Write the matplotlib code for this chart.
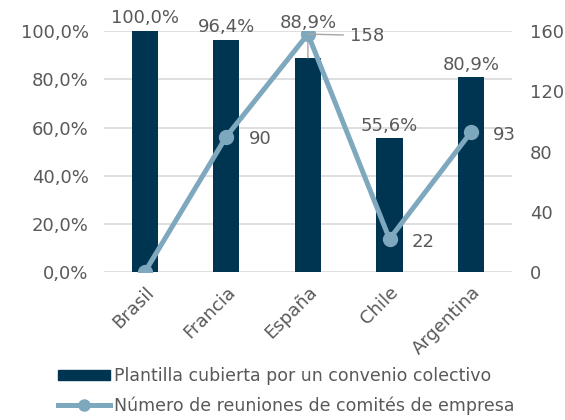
import matplotlib.pyplot as plt
from matplotlib.lines import Line2D
from matplotlib.patches import Patch

paises = ['Brasil', 'Francia', 'España', 'Chile', 'Argentina']
plantilla = [100.0, 96.4, 88.9, 55.6, 80.9]
reuniones = [0, 90, 158, 22, 93]
pct_ticks = [0, 20, 40, 60, 80, 100]
num_ticks = [0, 40, 80, 120, 160]

bar_color = '#003551'
line_color = '#7EA8BE'
txt = '#595959'
plt.rcParams['font.family'] = ['DejaVu Sans']
fs = 13

fig = plt.figure(figsize=(5.65, 4.2), dpi=100)
ax = fig.add_axes((0.184, 0.352, 0.722, 0.574))
ax2 = ax.twinx()

x = list(range(len(paises)))
ax.bar(x, plantilla, width=0.32, color=bar_color, zorder=2)
ax.set_ylim(0, 100)
ax.set_xlim(-0.5, len(paises) - 0.5)
ax.set_yticks(pct_ticks)
ax.set_yticklabels(['%d,0%%' % t for t in pct_ticks])
ax.grid(axis='y', color='#D9D9D9', linewidth=1.2, zorder=0)
ax.set_xticks(x)
ax.set_xticklabels(paises, rotation=45, ha='right', rotation_mode='anchor')

ax2.plot(x, reuniones, color=line_color, linewidth=3.6, marker='o',
         markersize=10, zorder=3)
ax2.set_ylim(0, 160)
ax2.set_yticks(num_ticks)

for a in (ax, ax2):
    for s in a.spines.values():
        s.set_visible(False)
    a.tick_params(length=0, labelsize=fs, colors=txt)
ax.tick_params(axis='y', pad=11)
ax2.tick_params(axis='y', pad=13)
ax.tick_params(axis='x', pad=8)

# etiquetas de barras
for i, v in enumerate(plantilla):
    lbl = ('%.1f%%' % v).replace('.', ',')
    if paises[i] == 'España':
        ax.annotate(lbl, (i, v), xytext=(i, 99.5), ha='center', va='bottom',
                    fontsize=fs, color=txt, annotation_clip=False,
                    arrowprops=dict(arrowstyle='-', color='#A6A6A6', lw=1,
                                    shrinkA=0, shrinkB=0))
    else:
        ax.text(i, v + 1.5, lbl, ha='center', va='bottom', fontsize=fs,
                color=txt)

# etiquetas de la línea
for i, v in enumerate(reuniones):
    if v == 0:
        continue
    if paises[i] == 'España':
        ax2.annotate(str(v), (i, v), xytext=(i + 0.52, v - 1), ha='left',
                     va='center', fontsize=fs, color=txt, zorder=4,
                     arrowprops=dict(arrowstyle='-', color='#A6A6A6', lw=1,
                                     shrinkA=3, shrinkB=0))
    else:
        ax2.annotate(str(v), (i, v), xytext=(16, -2), textcoords='offset points',
                     ha='left', va='center', fontsize=fs, color=txt)

handles = [Patch(color=bar_color),
           Line2D([], [], color=line_color, linewidth=3.6, marker='o',
                  markersize=8)]
labels = ['Plantilla cubierta por un convenio colectivo',
          'Número de reuniones de comités de empresa']
fig.legend(handles, labels, loc='lower left', bbox_to_anchor=(0.075, -0.025),
           frameon=False, fontsize=12.5, labelcolor=txt, handlelength=3.0,
           handleheight=0.5, handletextpad=0.2, labelspacing=0.65)

fig.savefig('out.png', dpi=100)
